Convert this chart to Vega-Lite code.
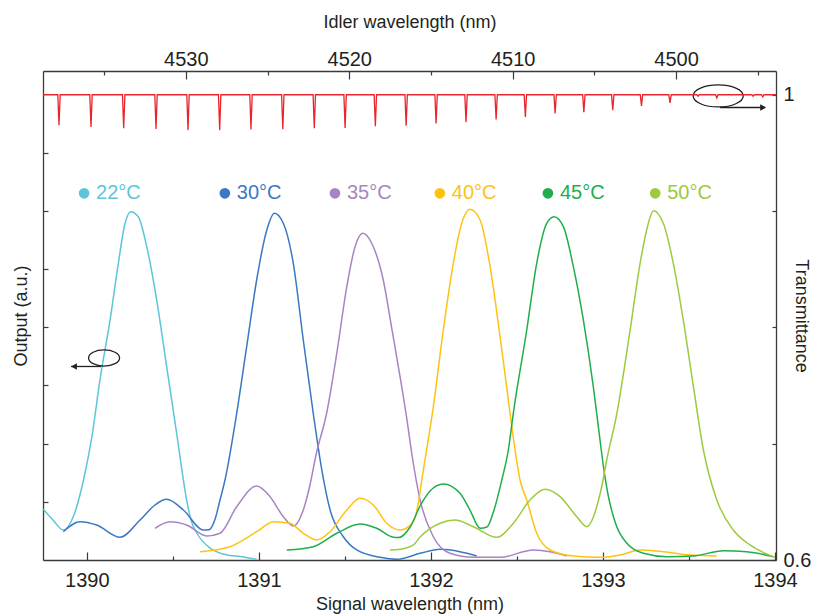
{
  "$schema": "https://vega.github.io/schema/vega-lite/v6.json",
  "width": 733,
  "height": 489,
  "autosize": "none",
  "padding": {"left": 43, "top": 71, "right": 38, "bottom": 55},
  "background": "white",
  "datasets": {
    "curves": [
      {"t":"22°C","x":1389.747,"y":0.871},{"t":"22°C","x":1389.803,"y":0.687},{"t":"22°C","x":1389.863,"y":0.515},{"t":"22°C","x":1389.921,"y":0.744},{"t":"22°C","x":1389.983,"y":1.409},{"t":"22°C","x":1390.030,"y":2.131},{"t":"22°C","x":1390.076,"y":3.093},{"t":"22°C","x":1390.135,"y":4.124},{"t":"22°C","x":1390.183,"y":5.098},{"t":"22°C","x":1390.222,"y":5.785},{"t":"22°C","x":1390.255,"y":5.985},{"t":"22°C","x":1390.299,"y":5.899},{"t":"22°C","x":1390.348,"y":5.383},{"t":"22°C","x":1390.406,"y":4.467},{"t":"22°C","x":1390.464,"y":3.321},{"t":"22°C","x":1390.522,"y":2.177},{"t":"22°C","x":1390.561,"y":1.375},{"t":"22°C","x":1390.580,"y":1.031},{"t":"22°C","x":1390.605,"y":0.687},{"t":"22°C","x":1390.639,"y":0.464},{"t":"22°C","x":1390.716,"y":0.206},{"t":"22°C","x":1390.792,"y":0.103},{"t":"22°C","x":1390.908,"y":0.052},{"t":"22°C","x":1390.987,"y":0.012},
      {"t":"30°C","x":1389.863,"y":0.486},{"t":"30°C","x":1389.960,"y":0.658},{"t":"30°C","x":1390.057,"y":0.601},{"t":"30°C","x":1390.193,"y":0.390},{"t":"30°C","x":1390.309,"y":0.687},{"t":"30°C","x":1390.396,"y":0.945},{"t":"30°C","x":1390.464,"y":1.043},{"t":"30°C","x":1390.561,"y":0.859},{"t":"30°C","x":1390.677,"y":0.515},{"t":"30°C","x":1390.710,"y":0.520},{"t":"30°C","x":1390.745,"y":0.700},{"t":"30°C","x":1390.774,"y":1.031},{"t":"30°C","x":1390.803,"y":1.375},{"t":"30°C","x":1390.871,"y":2.521},{"t":"30°C","x":1390.929,"y":3.665},{"t":"30°C","x":1390.987,"y":4.811},{"t":"30°C","x":1391.046,"y":5.670},{"t":"30°C","x":1391.090,"y":5.957},{"t":"30°C","x":1391.142,"y":5.785},{"t":"30°C","x":1391.200,"y":5.098},{"t":"30°C","x":1391.258,"y":3.780},{"t":"30°C","x":1391.316,"y":2.521},{"t":"30°C","x":1391.361,"y":1.632},{"t":"30°C","x":1391.414,"y":0.859},{"t":"30°C","x":1391.491,"y":0.400},{"t":"30°C","x":1391.569,"y":0.172},{"t":"30°C","x":1391.704,"y":0.046},{"t":"30°C","x":1391.801,"y":0.012},{"t":"30°C","x":1391.937,"y":0.115},{"t":"30°C","x":1392.053,"y":0.184},{"t":"30°C","x":1392.169,"y":0.143},{"t":"30°C","x":1392.267,"y":0.069},
      {"t":"35°C","x":1390.396,"y":0.545},{"t":"35°C","x":1390.483,"y":0.658},{"t":"35°C","x":1390.580,"y":0.601},{"t":"35°C","x":1390.697,"y":0.412},{"t":"35°C","x":1390.774,"y":0.459},{"t":"35°C","x":1390.871,"y":0.916},{"t":"35°C","x":1390.987,"y":1.271},{"t":"35°C","x":1391.065,"y":1.088},{"t":"35°C","x":1391.142,"y":0.744},{"t":"35°C","x":1391.200,"y":0.584},{"t":"35°C","x":1391.258,"y":0.859},{"t":"35°C","x":1391.297,"y":1.289},{"t":"35°C","x":1391.332,"y":1.804},{"t":"35°C","x":1391.394,"y":2.526},{"t":"35°C","x":1391.453,"y":3.557},{"t":"35°C","x":1391.511,"y":4.696},{"t":"35°C","x":1391.559,"y":5.383},{"t":"35°C","x":1391.604,"y":5.613},{"t":"35°C","x":1391.656,"y":5.442},{"t":"35°C","x":1391.723,"y":4.811},{"t":"35°C","x":1391.774,"y":3.952},{"t":"35°C","x":1391.821,"y":3.144},{"t":"35°C","x":1391.861,"y":2.405},{"t":"35°C","x":1391.890,"y":1.804},{"t":"35°C","x":1391.937,"y":1.031},{"t":"35°C","x":1392.014,"y":0.400},{"t":"35°C","x":1392.111,"y":0.115},{"t":"35°C","x":1392.247,"y":0.046},{"t":"35°C","x":1392.402,"y":0.046},{"t":"35°C","x":1392.596,"y":0.172},{"t":"35°C","x":1392.693,"y":0.143},{"t":"35°C","x":1392.790,"y":0.069},
      {"t":"40°C","x":1390.658,"y":0.143},{"t":"40°C","x":1390.832,"y":0.229},{"t":"40°C","x":1390.987,"y":0.486},{"t":"40°C","x":1391.084,"y":0.658},{"t":"40°C","x":1391.181,"y":0.631},{"t":"40°C","x":1391.258,"y":0.459},{"t":"40°C","x":1391.336,"y":0.344},{"t":"40°C","x":1391.414,"y":0.486},{"t":"40°C","x":1391.511,"y":0.859},{"t":"40°C","x":1391.588,"y":1.060},{"t":"40°C","x":1391.665,"y":0.945},{"t":"40°C","x":1391.743,"y":0.631},{"t":"40°C","x":1391.821,"y":0.515},{"t":"40°C","x":1391.898,"y":0.658},{"t":"40°C","x":1391.925,"y":0.950},{"t":"40°C","x":1391.947,"y":1.375},{"t":"40°C","x":1392.014,"y":2.634},{"t":"40°C","x":1392.072,"y":3.952},{"t":"40°C","x":1392.130,"y":5.098},{"t":"40°C","x":1392.179,"y":5.785},{"t":"40°C","x":1392.227,"y":6.026},{"t":"40°C","x":1392.286,"y":5.842},{"t":"40°C","x":1392.344,"y":5.040},{"t":"40°C","x":1392.402,"y":3.837},{"t":"40°C","x":1392.460,"y":2.521},{"t":"40°C","x":1392.489,"y":1.890},{"t":"40°C","x":1392.518,"y":1.375},{"t":"40°C","x":1392.557,"y":1.031},{"t":"40°C","x":1392.615,"y":0.459},{"t":"40°C","x":1392.693,"y":0.172},{"t":"40°C","x":1392.828,"y":0.069},{"t":"40°C","x":1392.983,"y":0.046},{"t":"40°C","x":1393.100,"y":0.086},{"t":"40°C","x":1393.216,"y":0.172},{"t":"40°C","x":1393.351,"y":0.143},{"t":"40°C","x":1393.507,"y":0.086},{"t":"40°C","x":1393.662,"y":0.069},
      {"t":"45°C","x":1391.162,"y":0.172},{"t":"45°C","x":1391.316,"y":0.229},{"t":"45°C","x":1391.453,"y":0.459},{"t":"45°C","x":1391.588,"y":0.619},{"t":"45°C","x":1391.685,"y":0.545},{"t":"45°C","x":1391.782,"y":0.390},{"t":"45°C","x":1391.812,"y":0.385},{"t":"45°C","x":1391.879,"y":0.567},{"t":"45°C","x":1391.937,"y":0.928},{"t":"45°C","x":1391.995,"y":1.186},{"t":"45°C","x":1392.072,"y":1.306},{"t":"45°C","x":1392.169,"y":1.146},{"t":"45°C","x":1392.227,"y":0.859},{"t":"45°C","x":1392.286,"y":0.545},{"t":"45°C","x":1392.326,"y":0.567},{"t":"45°C","x":1392.367,"y":0.859},{"t":"45°C","x":1392.412,"y":1.375},{"t":"45°C","x":1392.450,"y":1.890},{"t":"45°C","x":1392.479,"y":2.521},{"t":"45°C","x":1392.557,"y":3.952},{"t":"45°C","x":1392.615,"y":5.098},{"t":"45°C","x":1392.673,"y":5.785},{"t":"45°C","x":1392.716,"y":5.899},{"t":"45°C","x":1392.770,"y":5.727},{"t":"45°C","x":1392.828,"y":5.040},{"t":"45°C","x":1392.886,"y":4.124},{"t":"45°C","x":1392.944,"y":2.978},{"t":"45°C","x":1392.983,"y":2.062},{"t":"45°C","x":1393.003,"y":1.603},{"t":"45°C","x":1393.030,"y":1.117},{"t":"45°C","x":1393.061,"y":0.744},{"t":"45°C","x":1393.139,"y":0.287},{"t":"45°C","x":1393.235,"y":0.115},{"t":"45°C","x":1393.371,"y":0.057},{"t":"45°C","x":1393.526,"y":0.069},{"t":"45°C","x":1393.700,"y":0.160},{"t":"45°C","x":1393.836,"y":0.143},{"t":"45°C","x":1393.991,"y":0.057},
      {"t":"50°C","x":1391.762,"y":0.172},{"t":"50°C","x":1391.821,"y":0.184},{"t":"50°C","x":1391.898,"y":0.258},{"t":"50°C","x":1391.937,"y":0.395},{"t":"50°C","x":1392.053,"y":0.631},{"t":"50°C","x":1392.140,"y":0.687},{"t":"50°C","x":1392.247,"y":0.572},{"t":"50°C","x":1392.383,"y":0.390},{"t":"50°C","x":1392.479,"y":0.631},{"t":"50°C","x":1392.576,"y":1.031},{"t":"50°C","x":1392.663,"y":1.215},{"t":"50°C","x":1392.751,"y":1.088},{"t":"50°C","x":1392.848,"y":0.744},{"t":"50°C","x":1392.906,"y":0.572},{"t":"50°C","x":1392.937,"y":0.687},{"t":"50°C","x":1392.964,"y":0.916},{"t":"50°C","x":1392.995,"y":1.289},{"t":"50°C","x":1393.022,"y":1.718},{"t":"50°C","x":1393.081,"y":2.521},{"t":"50°C","x":1393.158,"y":3.952},{"t":"50°C","x":1393.216,"y":5.098},{"t":"50°C","x":1393.264,"y":5.785},{"t":"50°C","x":1393.293,"y":6.002},{"t":"50°C","x":1393.351,"y":5.785},{"t":"50°C","x":1393.409,"y":5.098},{"t":"50°C","x":1393.467,"y":4.124},{"t":"50°C","x":1393.526,"y":2.978},{"t":"50°C","x":1393.584,"y":1.890},{"t":"50°C","x":1393.662,"y":1.031},{"t":"50°C","x":1393.758,"y":0.515},{"t":"50°C","x":1393.855,"y":0.258},{"t":"50°C","x":1393.952,"y":0.103},{"t":"50°C","x":1394.000,"y":0.046}
    ],
    "trans": [
      {"x":1389.745,"t":1},
      {"x":1389.831,"t":1},{"x":1389.838,"t":0.9738},{"x":1389.845,"t":1},
      {"x":1390.017,"t":1},{"x":1390.024,"t":0.9723},{"x":1390.031,"t":1},
      {"x":1390.207,"t":1},{"x":1390.214,"t":0.9712},{"x":1390.221,"t":1},
      {"x":1390.395,"t":1},{"x":1390.402,"t":0.9706},{"x":1390.409,"t":1},
      {"x":1390.581,"t":1},{"x":1390.588,"t":0.9695},{"x":1390.595,"t":1},
      {"x":1390.765,"t":1},{"x":1390.772,"t":0.9695},{"x":1390.779,"t":1},
      {"x":1390.947,"t":1},{"x":1390.954,"t":0.9701},{"x":1390.961,"t":1},
      {"x":1391.132,"t":1},{"x":1391.139,"t":0.9703},{"x":1391.146,"t":1},
      {"x":1391.315,"t":1},{"x":1391.322,"t":0.9712},{"x":1391.329,"t":1},
      {"x":1391.494,"t":1},{"x":1391.501,"t":0.9715},{"x":1391.508,"t":1},
      {"x":1391.670,"t":1},{"x":1391.677,"t":0.9729},{"x":1391.684,"t":1},
      {"x":1391.849,"t":1},{"x":1391.856,"t":0.9733},{"x":1391.863,"t":1},
      {"x":1392.023,"t":1},{"x":1392.030,"t":0.9752},{"x":1392.037,"t":1},
      {"x":1392.197,"t":1},{"x":1392.204,"t":0.9764},{"x":1392.211,"t":1},
      {"x":1392.372,"t":1},{"x":1392.379,"t":0.9787},{"x":1392.386,"t":1},
      {"x":1392.542,"t":1},{"x":1392.549,"t":0.9809},{"x":1392.556,"t":1},
      {"x":1392.715,"t":1},{"x":1392.722,"t":0.9838},{"x":1392.729,"t":1},
      {"x":1392.882,"t":1},{"x":1392.889,"t":0.9850},{"x":1392.896,"t":1},
      {"x":1393.050,"t":1},{"x":1393.057,"t":0.9867},{"x":1393.064,"t":1},
      {"x":1393.217,"t":1},{"x":1393.224,"t":0.9904},{"x":1393.231,"t":1},
      {"x":1393.383,"t":1},{"x":1393.390,"t":0.9929},{"x":1393.397,"t":1},
      {"x":1393.546,"t":1},{"x":1393.553,"t":0.9987},{"x":1393.560,"t":1},
      {"x":1393.655,"t":1},{"x":1393.662,"t":0.9972},{"x":1393.669,"t":1},
      {"x":1393.866,"t":1},{"x":1393.873,"t":0.9987},{"x":1393.880,"t":1},
      {"x":1393.922,"t":1},{"x":1393.929,"t":0.9981},{"x":1393.936,"t":1},
      {"x":1394.006,"t":1}
    ],
    "labels": [
      {"t":"22°C","x":1389.984,"y":6.301},
      {"t":"30°C","x":1390.802,"y":6.301},
      {"t":"35°C","x":1391.442,"y":6.301},
      {"t":"40°C","x":1392.052,"y":6.301},
      {"t":"45°C","x":1392.680,"y":6.301},
      {"t":"50°C","x":1393.304,"y":6.301}
    ],
    "ellipseL": [{"x":1390.100,"y":3.471}],
    "ellipseR": [{"x":1393.670,"y":7.973}],
    "arrowL": [{"x":1389.908,"x2":1390.082,"y":3.325,"hx":1389.925}],
    "arrowR": [{"x":1393.681,"x2":1393.943,"y":7.775,"hx":1393.931}]
  },
  "layer": [
    {
      "encoding": {
        "x": {"field":"x","type":"quantitative",
          "scale":{"domain":[1389.745,1394.006],"nice":false,"zero":false},
          "axis":{"orient":"bottom","values":[1390,1391,1392,1393,1394],"format":"d","tickSize":-8,"labelPadding":18,"labelFlush":false,
            "title":"Signal wavelength (nm)","titleY":44,"titleBaseline":"middle"}},
        "y": {"field":"y","type":"quantitative",
          "scale":{"domain":[0,8.402],"nice":false,"zero":false},
          "axis":{"orient":"left","values":[1,2,3,4,5,6,7],"labels":false,"tickSize":-5,
            "title":"Output (a.u.)","titleX":-22,"titleBaseline":"middle"}}
      },
      "layer": [
        {
          "data":{"name":"curves"},
          "mark":{"type":"line","strokeWidth":1.5,"interpolate":"monotone","clip":true},
          "encoding":{
            "color":{"field":"t","type":"nominal",
              "scale":{"domain":["22°C","30°C","35°C","40°C","45°C","50°C"],"range":["#5ec5d9","#3a78c5","#a884c2","#fec311","#20ae4c","#9dca3e"]},
              "legend":null},
            "detail":{"field":"t"}
          }
        },
        {
          "data":{"name":"labels"},
          "mark":{"type":"point","filled":true,"size":115,"opacity":1},
          "encoding":{"color":{"field":"t","type":"nominal","legend":null}}
        },
        {
          "data":{"name":"labels"},
          "mark":{"type":"text","align":"left","baseline":"middle","dx":12,"fontSize":20,"font":"Liberation Sans"},
          "encoding":{"text":{"field":"t"},"color":{"field":"t","type":"nominal","legend":null}}
        },
        {
          "data":{"name":"ellipseL"},
          "mark":{"type":"point","filled":false,"size":961,"stroke":"#231f20","strokeWidth":1.3,"opacity":1,
            "shape":"M-1,0C-1,-0.287,-0.552,-0.52,0,-0.52C0.552,-0.52,1,-0.287,1,0C1,0.287,0.552,0.52,0,0.52C-0.552,0.52,-1,0.287,-1,0Z"}
        },
        {
          "data":{"name":"ellipseR"},
          "mark":{"type":"point","filled":false,"size":2500,"stroke":"#231f20","strokeWidth":1.3,"opacity":1,
            "shape":"M-1,0C-1,-0.243,-0.552,-0.44,0,-0.44C0.552,-0.44,1,-0.243,1,0C1,0.243,0.552,0.44,0,0.44C-0.552,0.44,-1,0.243,-1,0Z"}
        },
        {
          "data":{"name":"arrowL"},
          "mark":{"type":"rule","color":"#231f20","strokeWidth":1.3},
          "encoding":{"x2":{"field":"x2"}}
        },
        {
          "data":{"name":"arrowL"},
          "mark":{"type":"point","shape":"triangle-left","filled":true,"size":45,"color":"#231f20","opacity":1},
          "encoding":{"x":{"field":"hx","type":"quantitative"}}
        },
        {
          "data":{"name":"arrowR"},
          "mark":{"type":"rule","color":"#231f20","strokeWidth":1.3},
          "encoding":{"x2":{"field":"x2"}}
        },
        {
          "data":{"name":"arrowR"},
          "mark":{"type":"point","shape":"triangle-right","filled":true,"size":45,"color":"#231f20","opacity":1},
          "encoding":{"x":{"field":"hx","type":"quantitative"}}
        }
      ]
    },
    {
      "data":{"name":"trans"},
      "mark":{"type":"line","color":"#e8252b","strokeWidth":1.3,"clip":true},
      "encoding":{
        "x":{"field":"x","type":"quantitative",
          "scale":{"domain":[1389.745,1394.006],"nice":false,"zero":false},
          "axis":{"orient":"bottom","values":[1390.5,1391.5,1392.5,1393.5],"labels":false,"domain":false,"title":null,"tickSize":-4}},
        "y":{"field":"t","type":"quantitative",
          "scale":{"domain":[0.6,1.0204],"nice":false,"zero":false},
          "axis":{"orient":"right","values":[0.6,0.7,0.8,0.9,1],"tickSize":-4,"labelPadding":11,"labelFlush":false,
            "labelExpr":"abs(datum.value-1)<0.001 ? '1' : (abs(datum.value-0.6)<0.001 ? '0.6' : '')",
            "title":"Transmittance","titleX":24,"titleBaseline":"middle"}}
      }
    },
    {
      "data":{"values":[{"i":4530},{"i":4500}]},
      "mark":{"type":"point","opacity":0},
      "encoding":{
        "x":{"field":"i","type":"quantitative",
          "scale":{"domain":[4493.88,4538.745],"reverse":true,"nice":false,"zero":false},
          "axis":{"orient":"top","values":[4530,4520,4510,4500],"format":"d","tickSize":-8,"labelPadding":10,"labelFlush":false,
            "title":"Idler wavelength (nm)","titleY":-49,"titleBaseline":"middle"}}
      }
    },
    {
      "data":{"values":[{"j":4530},{"j":4500}]},
      "mark":{"type":"point","opacity":0},
      "encoding":{
        "x":{"field":"j","type":"quantitative",
          "scale":{"domain":[4493.88,4538.745],"reverse":true,"nice":false,"zero":false},
          "axis":{"orient":"top","values":[4535,4525,4515,4505,4495],"labels":false,"domain":false,"title":null,"tickSize":-4}}
      }
    }
  ],
  "resolve": {"scale": {"x":"independent","y":"independent"}, "axis": {"x":"independent","y":"independent"}},
  "config": {
    "font": "Liberation Sans",
    "view": {"stroke": null},
    "axis": {
      "grid": false,
      "labelFont": "Liberation Sans",
      "titleFont": "Liberation Sans",
      "labelFontSize": 20,
      "titleFontSize": 18,
      "titleFontWeight": "normal",
      "labelColor": "#231f20",
      "titleColor": "#231f20",
      "domainColor": "#3a3a3a",
      "tickColor": "#3a3a3a",
      "domainWidth": 1.3,
      "tickWidth": 1.2
    }
  }
}
